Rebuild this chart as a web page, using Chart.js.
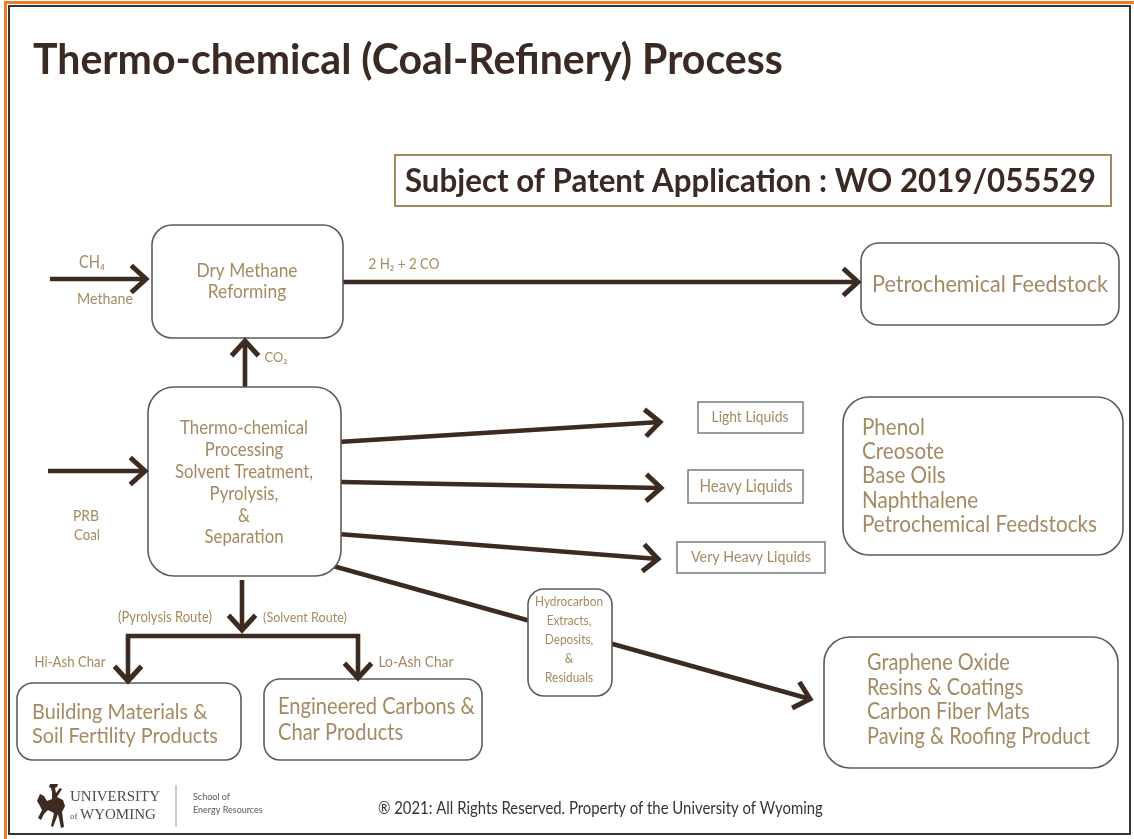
<!DOCTYPE html>
<html>
<head>
<meta charset="utf-8">
<script src="https://cdn.jsdelivr.net/npm/chart.js@4.4.1/dist/chart.umd.min.js"></script>
<style>
  html, body { margin: 0; padding: 0; background: #fff; }
  canvas { display: block; }
</style>
</head>
<body>
<canvas id="flow" width="1134" height="839"></canvas>
<script>
// ---- diagram text ----
const titleText = 'Thermo-chemical (Coal-Refinery) Process';
const patentText = 'Subject of Patent Application : WO 2019/055529';
const reformerText = ['Dry Methane', 'Reforming'];
const feedstockText = ['Petrochemical Feedstock'];
const processText = ['Thermo-chemical', 'Processing', 'Solvent Treatment,', 'Pyrolysis,', '&', 'Separation'];
const liquidProducts = ['Light Liquids', 'Heavy Liquids', 'Very Heavy Liquids'];
const liquidDerivatives = ['Phenol', 'Creosote', 'Base Oils', 'Naphthalene', 'Petrochemical Feedstocks'];
const charProducts = [['Building Materials &', 'Soil Fertility Products'], ['Engineered Carbons &', 'Char Products']];
const extractText = ['Hydrocarbon', 'Extracts,', 'Deposits,', '&', 'Residuals'];
const extractProducts = ['Graphene Oxide', 'Resins & Coatings', 'Carbon Fiber Mats', 'Paving & Roofing Product'];
const flowLabels = ['CH\u2084', 'Methane', '2 H\u2082 + 2 CO', 'CO\u2082', 'PRB', 'Coal',
  '(Pyrolysis Route)', '(Solvent Route)', 'Hi-Ash Char', 'Lo-Ash Char'];
const footerText = ['\u00AE 2021: All Rights Reserved. Property of the University of Wyoming', 'School of', 'Energy Resources'];

// ---- layout (page pixels, y grows downward) ----
const TAN = '#a48a62';
const DARK = '#3b2a23';
const ARROW = '#3d2a21';
const FONT = 'Lato, "Open Sans", sans-serif';
const CONDENSE = 0.9; // the original face is narrower than Lato

const boxes = [
  { x0: 152, y0: 225, x1: 343, y1: 338, r: 20, lines: reformerText, tx: 247, ys: [271, 292], fit: 101, align: 'center' },
  { x0: 861, y0: 243, x1: 1119, y1: 325, r: 18, lines: feedstockText, tx: 990, ys: [284], fit: 236, align: 'center' },
  { x0: 148, y0: 387, x1: 341, y1: 576, r: 26, lines: processText, tx: 244, ys: [428, 450, 472, 494, 516, 537], fit: 138, align: 'center' },
  { x0: 698, y0: 402, x1: 803, y1: 433, r: 0, lines: [liquidProducts[0]], tx: 750, ys: [417], fit: 77, align: 'center', thin: true },
  { x0: 688, y0: 470, x1: 803, y1: 503, r: 0, lines: [liquidProducts[1]], tx: 746, ys: [487], fit: 93, align: 'center', thin: true },
  { x0: 677, y0: 542, x1: 825, y1: 573, r: 0, lines: [liquidProducts[2]], tx: 751, ys: [557], fit: 120, align: 'center', thin: true },
  { x0: 843, y0: 397, x1: 1123, y1: 555, r: 26, lines: liquidDerivatives, tx: 862, ys: [428, 452, 476, 501, 525], fit: 235, align: 'left' },
  { x0: 17, y0: 683, x1: 241, y1: 760, r: 16, lines: charProducts[0], tx: 32, ys: [712, 736], fit: 186, align: 'left' },
  { x0: 264, y0: 679, x1: 482, y1: 760, r: 16, lines: charProducts[1], tx: 278, ys: [707, 733], fit: 197, align: 'left' },
  { x0: 528, y0: 589, x1: 612, y1: 696, r: 16, lines: extractText, tx: 569, ys: [602, 621, 640, 659, 678], fit: 68, align: 'center' },
  { x0: 824, y0: 637, x1: 1118, y1: 768, r: 26, lines: extractProducts, tx: 867, ys: [663, 688, 712, 737], fit: 223, align: 'left' }
];

const labels = [
  { text: flowLabels[0], x: 92, y: 263, fit: 26 },
  { text: flowLabels[1], x: 105, y: 299, fit: 56 },
  { text: flowLabels[2], x: 404, y: 264, fit: 71 },
  { text: flowLabels[3], x: 276, y: 357, fit: 23 },
  { text: flowLabels[4], x: 86, y: 516, fit: 26 },
  { text: flowLabels[5], x: 87, y: 535, fit: 26 },
  { text: flowLabels[6], x: 165, y: 617, fit: 94 },
  { text: flowLabels[7], x: 305, y: 617, fit: 84 },
  { text: flowLabels[8], x: 70, y: 662, fit: 71 },
  { text: flowLabels[9], x: 416, y: 662, fit: 75 }
];

// arrows: polyline points, head at end (and start when both)
const flows = [
  { pts: [[50, 279], [146, 279]], heads: ['end'] },
  { pts: [[343, 282], [858, 282]], heads: ['end'] },
  { pts: [[245, 387], [245, 341]], heads: ['end'] },
  { pts: [[48, 471], [145, 471]], heads: ['end'] },
  { pts: [[338, 442], [660, 422]], heads: ['end'] },
  { pts: [[341, 482], [661, 488]], heads: ['end'] },
  { pts: [[338, 534], [658, 559]], heads: ['end'] },
  { pts: [[333, 566], [810, 699]], heads: ['end'] },
  { pts: [[242, 580], [242, 630]], heads: ['end'] },
  { pts: [[128, 681], [128, 636], [358, 636], [358, 678]], heads: ['start', 'end'] }
];

function fitFont(ctx, lines, target, weight, family, condense) {
  ctx.font = weight + ' 100px ' + family;
  let w = 0;
  lines.forEach(l => { w = Math.max(w, ctx.measureText(l).width); });
  return 100 * target / (w * condense);
}

// draws text squeezed horizontally by `condense`
function drawText(ctx, text, x, y, align, condense) {
  ctx.save();
  ctx.translate(x, y);
  ctx.scale(condense, 1);
  ctx.textAlign = align;
  ctx.fillText(text, 0, 0);
  ctx.restore();
}

function roundRect(ctx, x0, y0, x1, y1, r) {
  ctx.beginPath();
  ctx.moveTo(x0 + r, y0);
  ctx.lineTo(x1 - r, y0);
  ctx.arcTo(x1, y0, x1, y0 + r, r);
  ctx.lineTo(x1, y1 - r);
  ctx.arcTo(x1, y1, x1 - r, y1, r);
  ctx.lineTo(x0 + r, y1);
  ctx.arcTo(x0, y1, x0, y1 - r, r);
  ctx.lineTo(x0, y0 + r);
  ctx.arcTo(x0, y0, x0 + r, y0, r);
  ctx.closePath();
}

const diagramPlugin = {
  id: 'diagram',
  beforeDraw(chart) {
    const ctx = chart.ctx;
    ctx.save();
    ctx.fillStyle = '#fff';
    ctx.fillRect(0, 0, chart.width, chart.height);
    ctx.restore();
  },
  afterDatasetsDraw(chart) {
    const ctx = chart.ctx;
    const sx = v => chart.scales.x.getPixelForValue(v);
    const sy = v => chart.scales.y.getPixelForValue(v);
    ctx.save();
    boxes.forEach(b => {
      const x0 = sx(b.x0), x1 = sx(b.x1), y0 = sy(b.y0), y1 = sy(b.y1);
      if (b.r) roundRect(ctx, x0, y0, x1, y1, b.r);
      else { ctx.beginPath(); ctx.rect(x0, y0, x1 - x0, y1 - y0); }
      ctx.fillStyle = '#fff';
      ctx.fill();
      ctx.strokeStyle = b.thin ? '#7b7b7b' : '#5c5c5c';
      ctx.lineWidth = b.thin ? 1.5 : 1.6;
      ctx.stroke();
      const size = fitFont(ctx, b.lines, b.fit, 'normal', FONT, CONDENSE);
      ctx.font = size.toFixed(2) + 'px ' + FONT;
      ctx.fillStyle = TAN;
      ctx.textBaseline = 'middle';
      b.lines.forEach((l, i) => drawText(ctx, l, sx(b.tx), sy(b.ys[i]), b.align, CONDENSE));
    });
    ctx.restore();
  },
  afterDraw(chart) {
    const ctx = chart.ctx;
    const sx = v => chart.scales.x.getPixelForValue(v);
    const sy = v => chart.scales.y.getPixelForValue(v);
    ctx.save();

    // arrowheads (open chevrons)
    ctx.strokeStyle = ARROW;
    ctx.lineWidth = 5;
    ctx.lineJoin = 'miter';
    ctx.lineCap = 'butt';
    flows.forEach(f => {
      f.heads.forEach(h => {
        const n = f.pts.length;
        const tip = h === 'end' ? f.pts[n - 1] : f.pts[0];
        const prev = h === 'end' ? f.pts[n - 2] : f.pts[1];
        const tx = sx(tip[0]), ty = sy(tip[1]);
        const a = Math.atan2(ty - sy(prev[1]), tx - sx(prev[0]));
        const L = 20, spread = 0.74;
        ctx.beginPath();
        ctx.moveTo(tx - L * Math.cos(a - spread), ty - L * Math.sin(a - spread));
        ctx.lineTo(tx, ty);
        ctx.lineTo(tx - L * Math.cos(a + spread), ty - L * Math.sin(a + spread));
        ctx.stroke();
      });
    });

    // flow labels
    ctx.fillStyle = TAN;
    ctx.textBaseline = 'middle';
    labels.forEach(l => {
      const size = fitFont(ctx, [l.text], l.fit, 'normal', FONT, CONDENSE);
      ctx.font = size.toFixed(2) + 'px ' + FONT;
      drawText(ctx, l.text, sx(l.x), sy(l.y), 'center', CONDENSE);
    });

    // title
    ctx.fillStyle = DARK;
    ctx.textBaseline = 'alphabetic';
    let size = fitFont(ctx, [titleText], 750, 'bold', FONT, 0.96);
    ctx.font = 'bold ' + size.toFixed(2) + 'px ' + FONT;
    drawText(ctx, titleText, sx(33), sy(74), 'left', 0.96);

    // patent box
    ctx.strokeStyle = '#a5875b';
    ctx.lineWidth = 2;
    ctx.strokeRect(sx(395), sy(155), sx(1111) - sx(395), sy(206) - sy(155));
    size = fitFont(ctx, [patentText], 691, 'bold', FONT, 0.96);
    ctx.font = 'bold ' + size.toFixed(2) + 'px ' + FONT;
    drawText(ctx, patentText, sx(405), sy(192), 'left', 0.96);

    // footer
    size = fitFont(ctx, [footerText[0]], 445, 'normal', FONT, 0.85);
    ctx.font = size.toFixed(2) + 'px ' + FONT;
    ctx.fillStyle = '#333';
    ctx.textBaseline = 'middle';
    drawText(ctx, footerText[0], sx(378), sy(808), 'left', 0.85);

    ctx.fillStyle = '#5a5a5a';
    ctx.font = '9px ' + FONT;
    ctx.textAlign = 'left';
    ctx.fillText(footerText[1], sx(193), sy(797));
    ctx.fillText(footerText[2], sx(193), sy(810));
    ctx.strokeStyle = '#9a9a9a';
    ctx.lineWidth = 1;
    ctx.beginPath();
    ctx.moveTo(sx(176), sy(785));
    ctx.lineTo(sx(176), sy(827));
    ctx.stroke();

    ctx.fillStyle = '#4d4d4d';
    ctx.font = '15px "Liberation Serif", serif';
    ctx.fillText('UNIVERSITY', sx(70), sy(797));
    ctx.font = '9px "Liberation Serif", serif';
    ctx.fillText('of', sx(70), sy(817));
    ctx.font = '15px "Liberation Serif", serif';
    ctx.fillText('WYOMING', sx(80), sy(815));

    // bucking horse silhouette
    ctx.fillStyle = '#3d2a20';
    ctx.beginPath();
    const horse = [[50,784],[58,784],[57,787],[55,788],[56,793],[60,788],[62,789],[57,797],
      [63,800],[65,806],[62,812],[64,827],[61,828],[58,814],[55,822],[53,827],[51,826],
      [54,813],[48,810],[44,814],[41,820],[38,818],[42,810],[40,806],[37,801],[40,794],
      [44,796],[47,801],[52,799],[52,792],[51,788],[49,787]];
    horse.forEach((p, i) => i ? ctx.lineTo(sx(p[0]), sy(p[1])) : ctx.moveTo(sx(p[0]), sy(p[1])));
    ctx.closePath();
    ctx.fill();

    // page frame
    ctx.strokeStyle = '#e87d2c';
    ctx.lineWidth = 3;
    ctx.strokeRect(sx(5.5), sy(2.5), sx(1140) - sx(5.5), sy(845) - sy(2.5));
    ctx.strokeStyle = '#333';
    ctx.lineWidth = 2;
    ctx.strokeRect(sx(9), sy(6), sx(1130) - sx(9), sy(834) - sy(6));
    ctx.restore();
  }
};

new Chart(document.getElementById('flow'), {
  type: 'scatter',
  data: {
    datasets: flows.map(f => ({
      data: f.pts.map(p => ({ x: p[0], y: p[1] })),
      showLine: true,
      borderColor: ARROW,
      borderWidth: 4.6,
      borderCapStyle: 'butt',
      borderJoinStyle: 'miter',
      pointRadius: 0,
      tension: 0,
      fill: false
    }))
  },
  options: {
    responsive: false,
    animation: false,
    layout: { padding: 0 },
    plugins: { legend: { display: false }, tooltip: { enabled: false } },
    scales: {
      x: { type: 'linear', min: 0, max: 1134, display: false },
      y: { type: 'linear', min: 0, max: 839, reverse: true, display: false }
    }
  },
  plugins: [diagramPlugin]
});
</script>
</body>
</html>
